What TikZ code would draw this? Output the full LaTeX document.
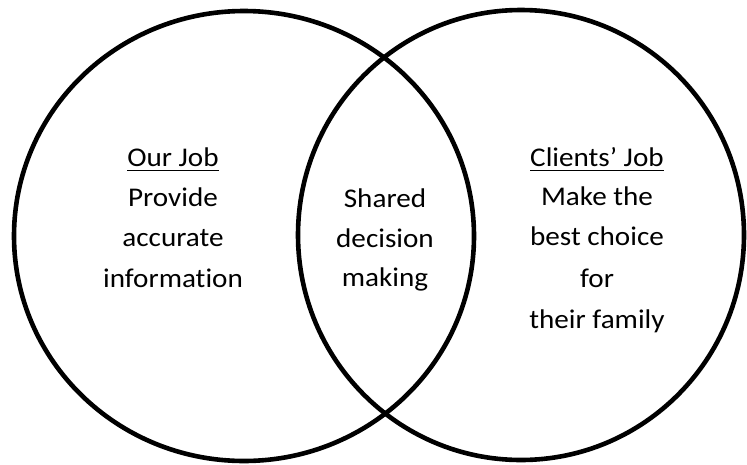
\documentclass[tikz,border=0pt]{standalone}
\usepackage{fontspec}
\setmainfont{Carlito}[FakeStretch=1.08,Ligatures=NoCommon]
\begin{document}
\begin{tikzpicture}[x=1pt,y=-1pt,
  ring/.style={line width=4.6pt,draw=black},
  txt/.style={anchor=base,inner sep=0pt,font=\fontsize{27}{32}\selectfont},
  uline/.style={line width=1.3pt}]
\useasboundingbox (0,0) rectangle (747,464);
\fill[white] (0,0) rectangle (747,464);

% the two overlapping sets
\draw[ring] (244,236) ellipse [x radius=230, y radius=225];
\draw[ring] (521,235) ellipse [x radius=223, y radius=225];

% left set
\node[txt] (ourjob) at (173,166) {Our Job};
\node[txt] (l2) at (173,206) {Provide};
\node[txt] (l3) at (173,246) {accurate};
\node[txt] (l4) at (173,287) {information};
\draw[uline] ([yshift=-4.5pt]ourjob.base west) -- ([yshift=-4.5pt]ourjob.base east);

% overlap
\node[txt] (m1) at (385,207) {Shared};
\node[txt] (m2) at (385,247) {decision};
\node[txt] (m3) at (385,286) {making};

% right set
\node[txt] (clientsjob) at (597,166) {Clients’ Job};
\node[txt] (r2) at (597,205) {Make the};
\node[txt] (r3) at (597,245) {best choice};
\node[txt] (r4) at (597,287) {for};
\node[txt] (r5) at (597,328) {their family};
\draw[uline] ([yshift=-4.5pt]clientsjob.base west) -- ([yshift=-4.5pt]clientsjob.base east);
\end{tikzpicture}
\end{document}
